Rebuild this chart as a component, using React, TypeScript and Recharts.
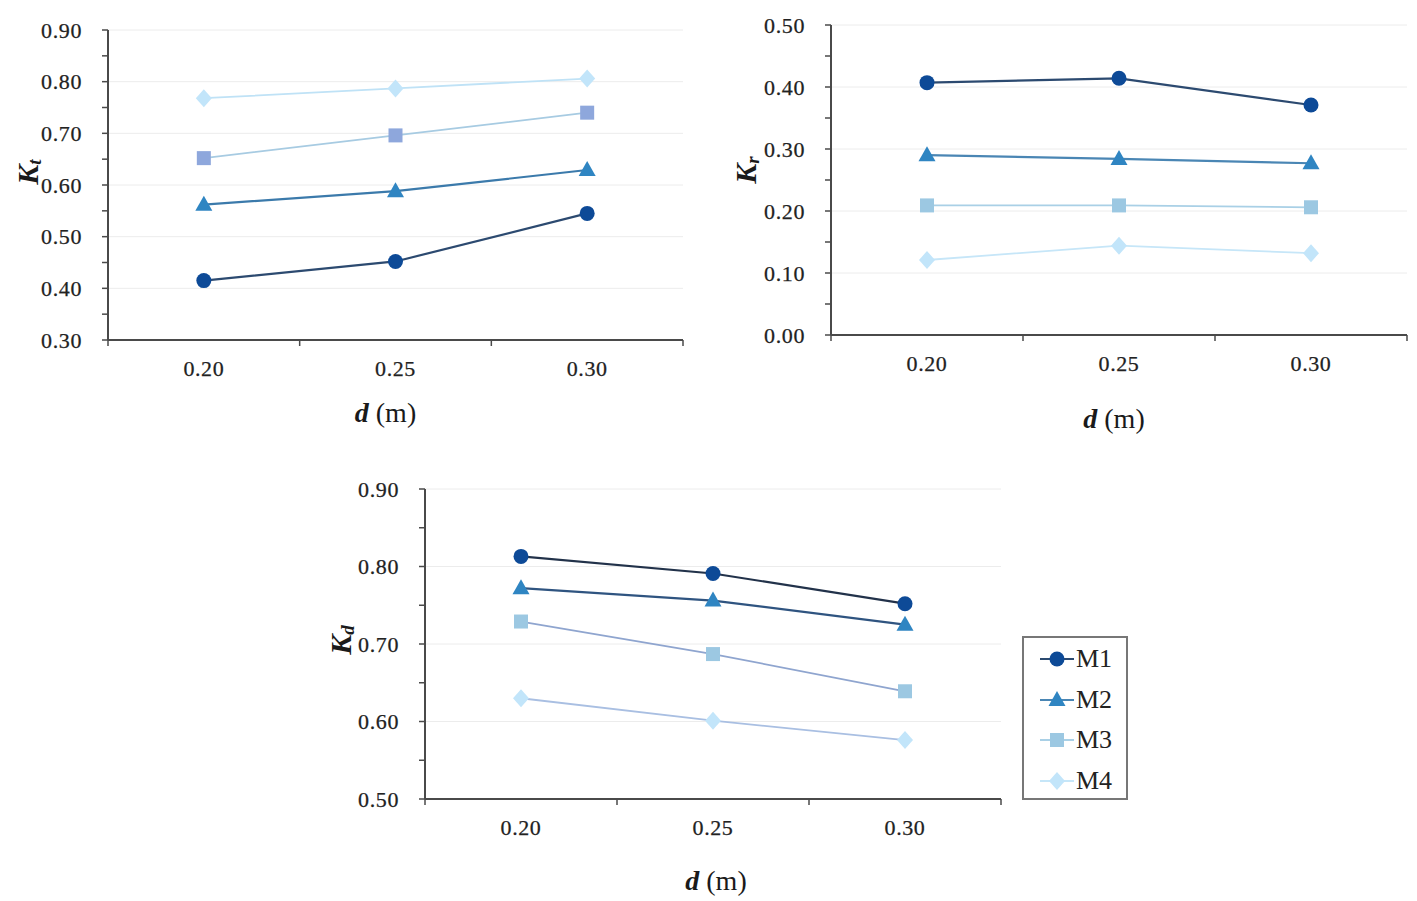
import React from 'react';
import { LineChart, Line, XAxis, YAxis, CartesianGrid, Legend } from 'recharts';

const categories = ['0.20', '0.25', '0.30'];
const seriesNames = ['M1', 'M2', 'M3', 'M4'];
const shapes = ['circle', 'triangle', 'square', 'diamond'];

// K_t
const ktM1 = [0.415, 0.452, 0.545];
const ktM2 = [0.562, 0.588, 0.629];
const ktM3 = [0.652, 0.696, 0.740];
const ktM4 = [0.768, 0.787, 0.806];
const ktTicks = [0.3, 0.35, 0.4, 0.45, 0.5, 0.55, 0.6, 0.65, 0.7, 0.75, 0.8, 0.85, 0.9];

// K_r
const krM1 = [0.407, 0.414, 0.371];
const krM2 = [0.290, 0.284, 0.277];
const krM3 = [0.209, 0.209, 0.206];
const krM4 = [0.121, 0.144, 0.132];
const krTicks = [0, 0.05, 0.1, 0.15, 0.2, 0.25, 0.3, 0.35, 0.4, 0.45, 0.5];

// K_d
const kdM1 = [0.813, 0.791, 0.752];
const kdM2 = [0.772, 0.756, 0.725];
const kdM3 = [0.729, 0.687, 0.639];
const kdM4 = [0.630, 0.601, 0.576];
const kdTicks = [0.5, 0.55, 0.6, 0.65, 0.7, 0.75, 0.8, 0.85, 0.9];

const FONT = "'Liberation Serif', 'Times New Roman', serif";
const AXIS = '#4a4a4a';

const buildRows = (series: number[][]) =>
  categories.map((c, i) => {
    const row: Record<string, number | string> = { pos: i + 0.5, d: c };
    seriesNames.forEach((n, k) => { row[n] = series[k][i]; });
    return row;
  });

// category boundaries + centers, Excel style
const xTicks = categories.flatMap((_, i) => [i, i + 0.5]).concat([categories.length]);

const Marker = ({ shape, cx, cy, fill }: { shape: string; cx?: number; cy?: number; fill: string }) => {
  if (cx == null || cy == null) return null;
  if (shape === 'circle') return <circle cx={cx} cy={cy} r={7.5} fill={fill} />;
  if (shape === 'triangle')
    return <polygon points={`${cx},${cy - 9} ${cx + 8.5},${cy + 6} ${cx - 8.5},${cy + 6}`} fill={fill} />;
  if (shape === 'square') return <rect x={cx - 7} y={cy - 7} width={14} height={14} fill={fill} />;
  return <polygon points={`${cx},${cy - 9} ${cx + 8},${cy} ${cx},${cy + 9} ${cx - 8},${cy}`} fill={fill} />;
};

const tickText = { fontFamily: FONT, fontSize: 22, fill: '#222', stroke: '#222', strokeWidth: 0.25, letterSpacing: 0.6 };

const XTick = ({ x, y, payload }: any) => {
  const v = payload.value;
  if (Number.isInteger(v)) {
    return <line x1={x} y1={y} x2={x} y2={y + 6} stroke={AXIS} strokeWidth={1.5} />;
  }
  return (
    <text x={x} y={y + 28} textAnchor="middle" dominantBaseline="central" {...tickText}>
      {categories[Math.floor(v)]}
    </text>
  );
};

const YTick = ({ x, y, payload }: any) => {
  const v = payload.value;
  if (Math.round(v * 100) % 10 !== 0) return null;
  return (
    <text x={x} y={y} textAnchor="end" dominantBaseline="central" {...tickText}>
      {v.toFixed(2)}
    </text>
  );
};

interface PanelProps {
  rows: Record<string, number | string>[];
  ticks: number[];
  left: number;
  top: number;
  width: number;
  height: number;
  margin: { top: number; right: number; bottom: number; left: number };
  yWidth: number;
  xHeight: number;
  markerColors: string[];
  lineColors: string[];
  sub: string;
  yLabelPos: [number, number];
  xLabelDx: number;
  xLabelDy: number;
  children?: React.ReactNode;
}

const Panel = (p: PanelProps) => {
  const plotLeft = p.margin.left + p.yWidth;
  const plotW = p.width - plotLeft - p.margin.right;
  const plotBottom = p.height - p.margin.bottom - p.xHeight;
  const majors = p.ticks.filter((t) => Math.round(t * 100) % 10 === 0);
  return (
    <div style={{ position: 'absolute', left: p.left, top: p.top }}>
      <LineChart width={p.width} height={p.height} data={p.rows} margin={p.margin}>
        <CartesianGrid vertical={false} horizontalValues={majors} stroke="#ececec" />
        <XAxis
          dataKey="pos"
          type="number"
          domain={[0, categories.length]}
          ticks={xTicks}
          interval={0}
          height={p.xHeight}
          tickLine={false}
          tickSize={0}
          tickMargin={0}
          tick={<XTick />}
          axisLine={{ stroke: AXIS, strokeWidth: 2 }}
          label={() => (
            <text x={plotLeft + plotW / 2 + p.xLabelDx} y={plotBottom + p.xLabelDy} textAnchor="middle"
              dominantBaseline="central" fontFamily={FONT} fontSize={28} fill="#1a1a1a">
              <tspan fontWeight="bold" fontStyle="italic">d</tspan>
              <tspan> (m)</tspan>
            </text>
          )}
        />
        <YAxis
          type="number"
          domain={[p.ticks[0], p.ticks[p.ticks.length - 1]]}
          ticks={p.ticks}
          interval={0}
          width={p.yWidth}
          tickSize={6}
          tickMargin={20}
          tickLine={{ stroke: AXIS, strokeWidth: 1.5 }}
          axisLine={{ stroke: AXIS, strokeWidth: 2 }}
          tick={<YTick />}
          label={() => {
            const [lx, ly] = p.yLabelPos;
            return (
              <text x={lx} y={ly} transform={`rotate(-90, ${lx}, ${ly})`} textAnchor="middle" dominantBaseline="central"
                fontFamily={FONT} fontSize={30} fontWeight="bold" fontStyle="italic" fill="#1a1a1a">
                K<tspan fontSize={19} dy={7}>{p.sub}</tspan>
              </text>
            );
          }}
        />
        {seriesNames.map((n, k) => (
          <Line
            key={n}
            type="linear"
            dataKey={n}
            stroke={p.lineColors[k]}
            strokeWidth={k < 2 ? 2.2 : 1.8}
            dot={(dp: any) => (
              <Marker key={`${n}-${dp.index}`} shape={shapes[k]} cx={dp.cx} cy={dp.cy} fill={p.markerColors[k]} />
            )}
            activeDot={false}
            isAnimationActive={false}
          />
        ))}
        {p.children}
      </LineChart>
    </div>
  );
};

const legendMarkers = ['#0d4a97', '#2f85c2', '#9cc8e2', '#c2e5fa'];
const legendLines = ['#2c4a70', '#4a86b4', '#a9d0e6', '#c6e6f8'];

const LegendBox = () => (
  <div style={{ border: '2px solid #777', width: 106, height: 164, boxSizing: 'border-box', background: '#fff', paddingTop: 1 }}>
    {seriesNames.map((n, k) => (
      <div key={n} style={{ height: 40.5, display: 'flex', alignItems: 'center' }}>
        <svg width={52} height={24} style={{ display: 'block' }}>
          <line x1={16} y1={12} x2={50} y2={12} stroke={legendLines[k]} strokeWidth={2} />
          <Marker shape={shapes[k]} cx={33} cy={12} fill={legendMarkers[k]} />
        </svg>
        <span style={{ fontFamily: FONT, fontSize: 26, color: '#222', lineHeight: '26px' }}>{n}</span>
      </div>
    ))}
  </div>
);

export default function App() {
  return (
    <div style={{ position: 'fixed', left: 0, top: 0, width: 1417, height: 901, background: '#fff', overflow: 'hidden' }}>
      <Panel
        rows={buildRows([ktM1, ktM2, ktM3, ktM4])}
        ticks={ktTicks}
        left={0}
        top={0}
        width={700}
        height={440}
        margin={{ top: 30, right: 17, bottom: 10, left: 0 }}
        yWidth={108}
        xHeight={90}
        markerColors={['#0d4a97', '#2f85c2', '#8ea7dc', '#c2e5fa']}
        lineColors={['#2c4a70', '#3b7aab', '#a7cbe2', '#bfe2f6']}
        sub="t"
        yLabelPos={[27, 172]}
        xLabelDx={-10}
        xLabelDy={72}
      />
      <Panel
        rows={buildRows([krM1, krM2, krM3, krM4])}
        ticks={krTicks}
        left={720}
        top={0}
        width={697}
        height={440}
        margin={{ top: 25, right: 10, bottom: 10, left: 0 }}
        yWidth={111}
        xHeight={95}
        markerColors={['#0d4a97', '#2f85c2', '#9cc8e2', '#c2e5fa']}
        lineColors={['#2c4a70', '#4a86b4', '#a9d0e6', '#c6e6f8']}
        sub="r"
        yLabelPos={[25, 170]}
        xLabelDx={-5}
        xLabelDy={83}
      />
      <Panel
        rows={buildRows([kdM1, kdM2, kdM3, kdM4])}
        ticks={kdTicks}
        left={300}
        top={470}
        width={850}
        height={430}
        margin={{ top: 19, right: 149, bottom: 10, left: 0 }}
        yWidth={125}
        xHeight={91}
        markerColors={['#0d4a97', '#2f85c2', '#9cc8e2', '#c2e5fa']}
        lineColors={['#22324a', '#2f5480', '#8fa5cf', '#a9bfe2']}
        sub="d"
        yLabelPos={[40, 170]}
        xLabelDx={3}
        xLabelDy={81}
      >
        <Legend
          layout="vertical"
          align="center"
          verticalAlign="middle"
          content={() => <LegendBox />}
          wrapperStyle={{ position: 'absolute', left: 722, top: 166, width: 'auto', height: 'auto' }}
        />
      </Panel>
    </div>
  );
}
